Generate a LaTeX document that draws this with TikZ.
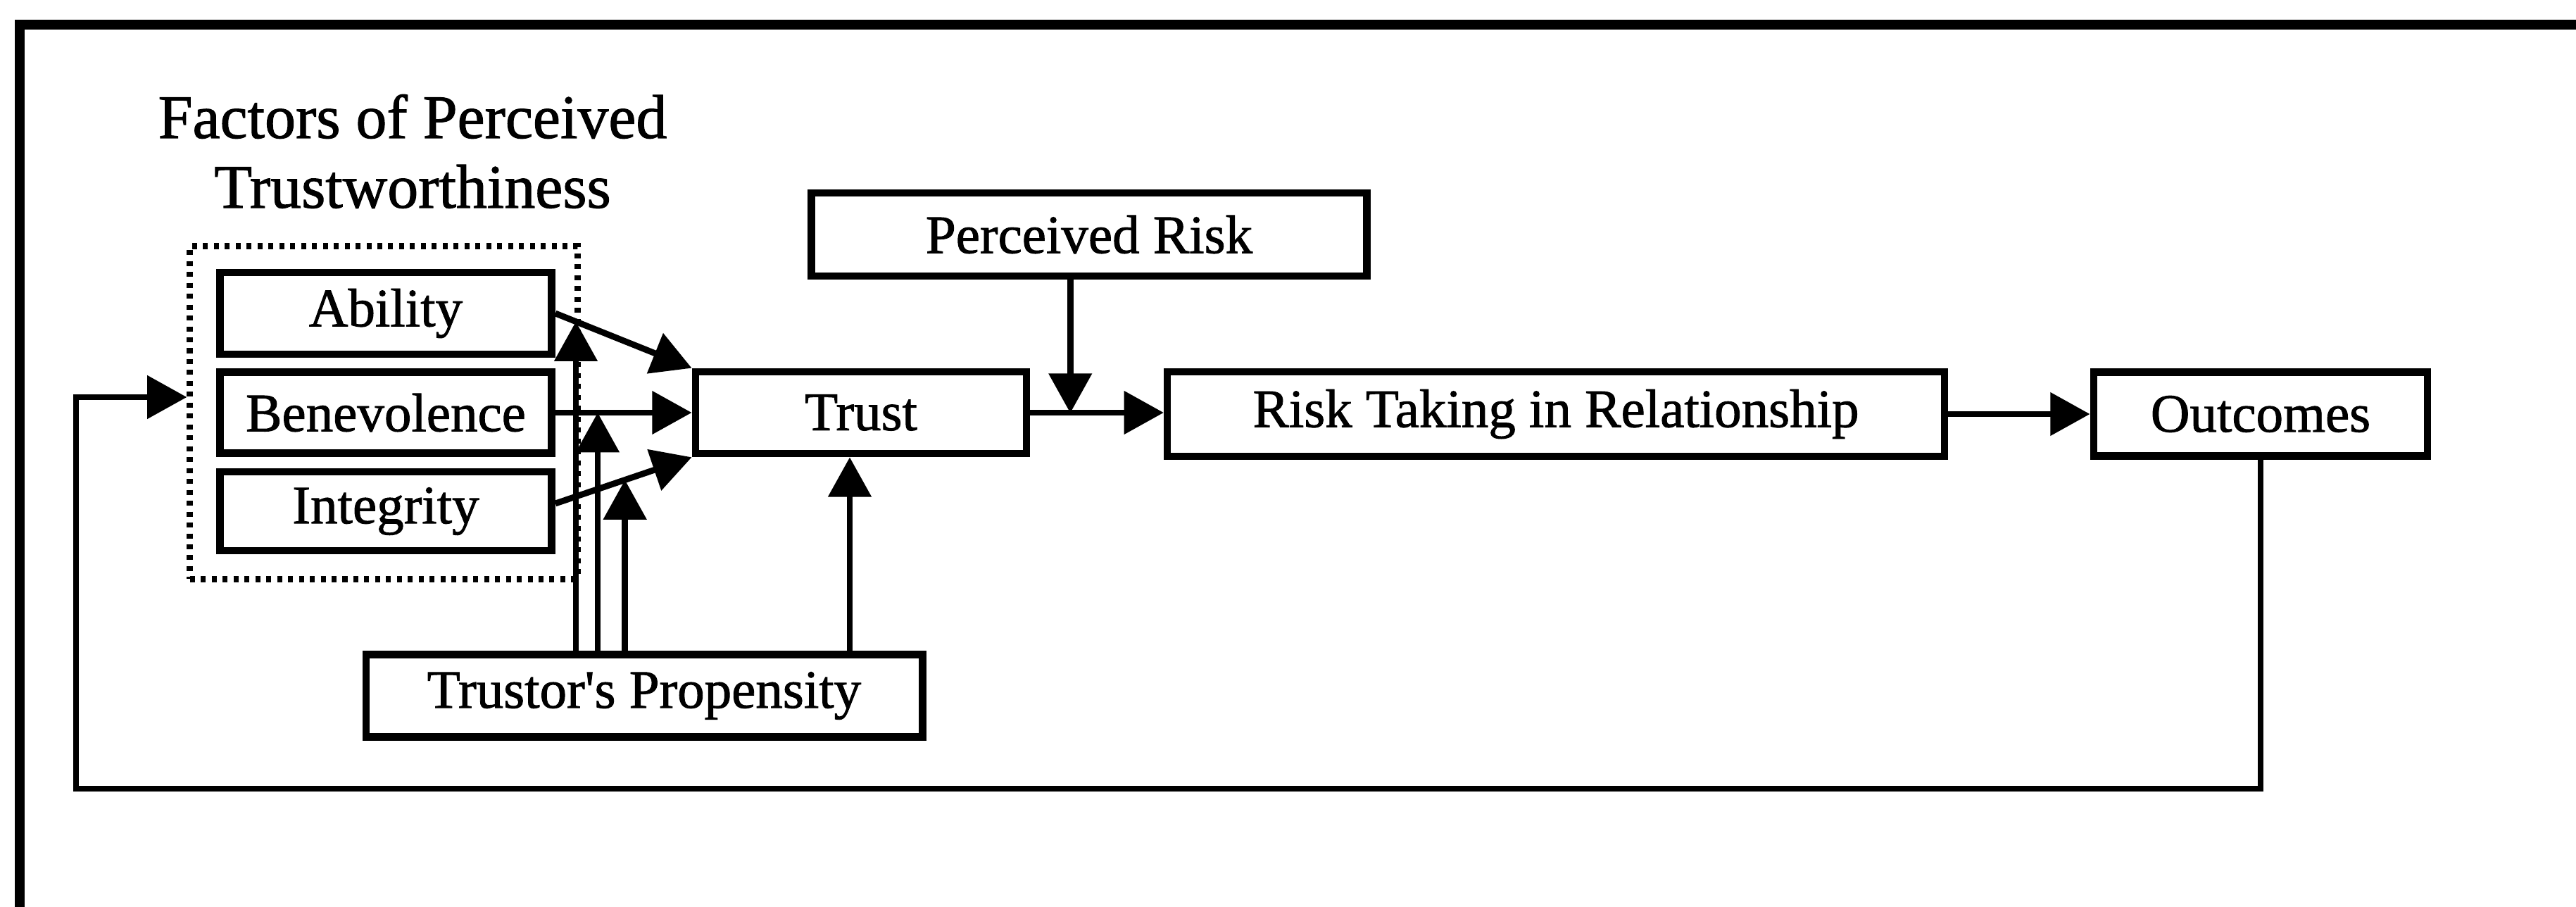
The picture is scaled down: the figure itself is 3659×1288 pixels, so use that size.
\documentclass[tikz,border=0pt]{standalone}
\usepackage{fontspec}
\setmainfont{Liberation Serif}[FakeBold=1.2]
\usetikzlibrary{arrows.meta,calc}
\begin{document}
\begin{tikzpicture}[x=0.01cm,y=-0.01cm,
  box/.style={draw, line width=3pt, inner sep=0pt, font=\fontsize{21.9pt}{26pt}\selectfont},
  arr/.style={line width=2.5pt, -{Triangle[length=16pt,width=17pt]}},
  ttl/.style={font=\fontsize{25pt}{30pt}\selectfont, anchor=base, inner sep=0pt}]
\useasboundingbox (0,0) rectangle (3659,1288);
% frame
\draw[line width=4pt] (28,1288) -- (28,35) -- (3659,35);
% title
\node[ttl] (t1) at (586,196) {Factors of Perceived};
\node[ttl] (t2) at (586,295) {Trustworthiness};
% group
\node[draw, line width=2.5pt, dash pattern=on 2pt off 2.4pt, minimum width=5.5cm, minimum height=4.72cm, inner sep=0pt] (grp) at (545,586) {};
% boxes
\node[box, minimum width=4.71cm, minimum height=1.16cm] (abl) at (548,445) {Ability};
\node[box, minimum width=4.71cm, minimum height=1.15cm] (ben) at (548,586) {Benevolence};
\node[box, minimum width=4.71cm, minimum height=1.12cm] (int) at (548,726) {Integrity};
\node[box, minimum width=4.70cm, minimum height=1.16cm] (trust) at (1223,586) {Trust};
\node[box, minimum width=7.89cm, minimum height=1.18cm] (risk) at (1547,333) {Perceived Risk};
\node[box, minimum width=11.03cm, minimum height=1.20cm] (rt) at (2210,588) {Risk Taking in Relationship};
\node[box, minimum width=4.74cm, minimum height=1.19cm] (out) at (3211,588) {Outcomes};
\node[box, minimum width=7.90cm, minimum height=1.17cm] (tp) at (915,988) {Trustor\textquotesingle s Propensity};
% helper coordinates
\coordinate (v1) at ($(abl.east)!0.15!(trust.north west)$);
\coordinate (v2) at ($(ben.east)!0.31!(trust.west)$);
\coordinate (i1) at ([yshift=0.11cm]int.east);
\coordinate (v3) at ($(i1)!0.51!(trust.south west)$);
\coordinate (px) at (1207,0);
\coordinate (j) at ($(trust.east)!0.30!(rt.west)$);
\coordinate (fb) at (108,1120);
% connectors
\draw[arr] (abl.east) -- (trust.north west);
\draw[arr] (ben.east) -- (ben.east -| trust.west);
\draw[arr] (i1) -- (trust.south west);
\draw[arr] (tp.north -| v1) -- (v1);
\draw[arr] (tp.north -| v2) -- (v2);
\draw[arr] (tp.north -| v3) -- (v3);
\draw[arr] (tp.north -| px) -- (trust.south -| px);
\draw[arr] (trust.east) -- (trust.east -| rt.west);
\draw[arr] (risk.south -| j) -- (j);
\draw[arr] (rt.east) -- (out.west);
\draw[arr] (out.south) |- (fb) |- ([yshift=0.22cm]grp.west);
\end{tikzpicture}
\end{document}
